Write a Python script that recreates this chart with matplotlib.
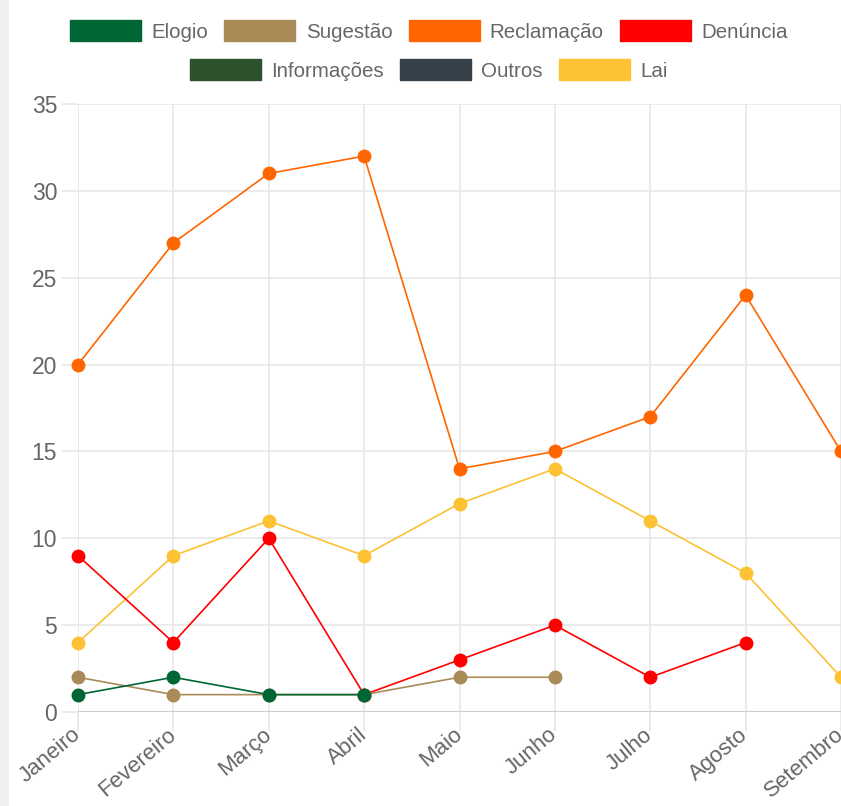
import matplotlib.pyplot as plt
import numpy as np
from matplotlib.patches import Patch, Rectangle

plt.rcParams['font.family'] = ['Liberation Sans', 'DejaVu Sans']

months = ["Janeiro", "Fevereiro", "Março", "Abril", "Maio", "Junho",
          "Julho", "Agosto", "Setembro"]
nan = np.nan

elogio = [1, 2, 1, 1, nan, nan, nan, nan, nan]
sugestao = [2, 1, 1, 1, 2, 2, nan, nan, nan]
reclamacao = [20, 27, 31, 32, 14, 15, 17, 24, 15]
denuncia = [9, 4, 10, 1, 3, 5, 2, 4, nan]
informacoes = [nan] * 9
outros = [nan] * 9
lai = [4, 9, 11, 9, 12, 14, 11, 8, 2]

series = [
    ("Elogio", elogio, "#006633"),
    ("Sugestão", sugestao, "#a98b57"),
    ("Reclamação", reclamacao, "#ff6600"),
    ("Denúncia", denuncia, "#ff0000"),
    ("Informações", informacoes, "#2d512c"),
    ("Outros", outros, "#37414a"),
    ("Lai", lai, "#fcc233"),
]

W, H = 841, 806
fig = plt.figure(figsize=(W / 100, H / 100), dpi=100)
fig.patches.append(Rectangle((0, 0), 9 / W, 1, transform=fig.transFigure,
                             facecolor="#efefef", edgecolor="none"))

ax = fig.add_axes([78 / W, (H - 712) / H, (841 - 78) / W, (712 - 104) / H])
x = np.arange(len(months))

# first dataset drawn on top, like Chart.js
n = len(series)
for i, (name, vals, color) in enumerate(series):
    ax.plot(x, vals, color=color, lw=1.2, marker="o", ms=9,
            mec=color, mfc=color, zorder=10 + n - i, clip_on=False)

ax.set_xlim(0, 8)
ax.set_ylim(0, 35)
ax.set_yticks(range(0, 36, 5))
ax.set_xticks(x)
ax.set_xticklabels(months, rotation=40, ha="right", va="center",
                   rotation_mode="anchor")

grid_c = "#e6e6e6"
ax.grid(True, color=grid_c, lw=1.1)
for s in ax.spines.values():
    s.set_visible(False)
ax.axhline(0, color="#cdcdcd", lw=2.2, zorder=2)

ax.tick_params(axis="y", length=11.5, color=grid_c, width=1.1, pad=3.5,
               labelsize=16.5, labelcolor="#666666")
ax.tick_params(axis="x", length=14, color=grid_c, width=1.1, pad=0.5,
               labelsize=16, labelcolor="#666666")

handles = [Patch(facecolor=c, edgecolor=c, label=nm) for nm, _, c in series]
leg_kw = dict(frameon=False, handlelength=3.45, handleheight=1.15,
              handletextpad=0.5, columnspacing=0.8, fontsize=14.8,
              labelcolor="#666666", borderaxespad=0, borderpad=0)
fig.legend(handles=handles[:4], ncol=4, loc="center",
           bbox_to_anchor=(429 / W, 1 - 31 / H), **leg_kw)
fig.legend(handles=handles[4:], ncol=3, loc="center",
           bbox_to_anchor=(429 / W, 1 - 70 / H), **leg_kw)

fig.savefig("out.png", dpi=100)
